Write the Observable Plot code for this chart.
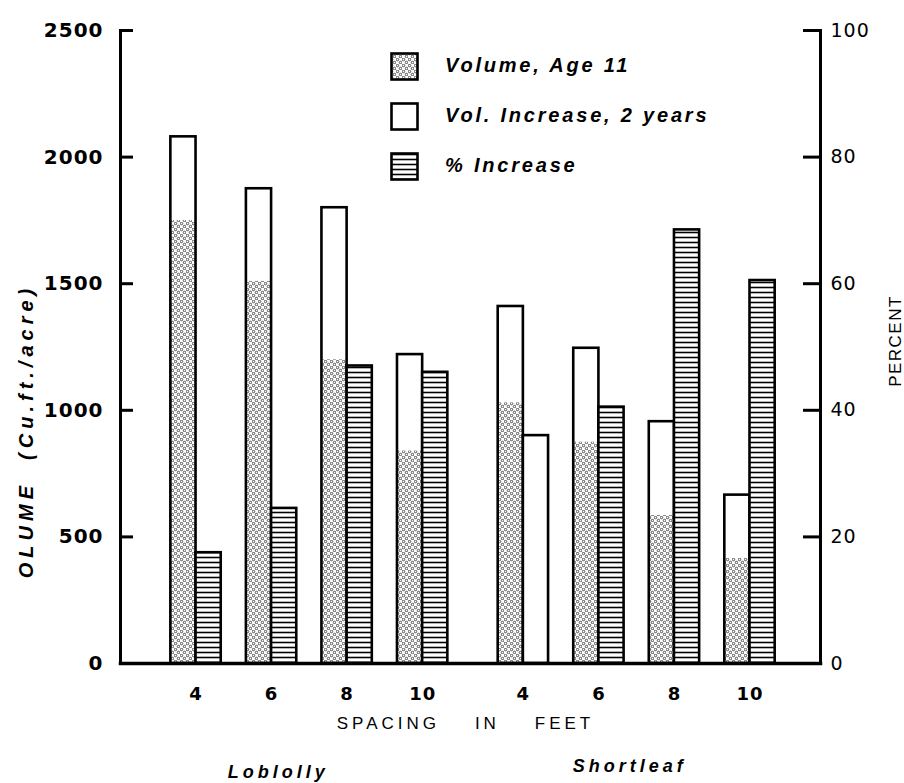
<!DOCTYPE html>
<html><head><meta charset="utf-8">
<script src="https://cdn.jsdelivr.net/npm/d3@7"></script>
<script src="https://cdn.jsdelivr.net/npm/@observablehq/plot@0.6"></script>
<style>
body{margin:0;background:#fff;}
#wrap{position:relative;width:904px;height:783px;overflow:hidden;}
#legend{position:absolute;left:390px;top:52px;font-family:"Liberation Sans",Arial,sans-serif;font-style:italic;font-weight:bold;font-size:20px;letter-spacing:2.8px;color:#000;}
#legend .row{position:absolute;left:0;height:28px;white-space:nowrap;}
#legend .row svg{position:absolute;left:0;top:0;}
#legend .row span{position:absolute;left:55px;top:2px;}
</style></head><body>
<svg width="0" height="0" style="position:absolute"><defs>
<pattern id="stipple" width="6" height="6" patternUnits="userSpaceOnUse">
<rect width="6" height="6" fill="#fff"/>
<circle cx="1.5" cy="1.5" r="1.25" fill="none" stroke="#000" stroke-width="0.65"/>
<circle cx="4.5" cy="4.5" r="1.25" fill="none" stroke="#000" stroke-width="0.65"/>
</pattern>
<pattern id="hatch" width="6" height="5" patternUnits="userSpaceOnUse">
<rect width="6" height="5" fill="#fff"/>
<line x1="0" y1="2.5" x2="6" y2="2.5" stroke="#000" stroke-width="1.6"/>
</pattern>
</defs></svg>
<div id="wrap">
<div id="legend"></div>
</div>
<script>
// ---- data ----
const species = ["Loblolly", "Shortleaf"];
const spacings = [4, 6, 8, 10];
const volumeAge11Loblolly = [1750, 1510, 1200, 840];
const volumeAge11Shortleaf = [1030, 875, 585, 415];
const volIncreaseLoblolly = [330, 365, 600, 380];
const volIncreaseShortleaf = [380, 370, 370, 250];
const pctIncreaseLoblolly = [17.5, 24.5, 47, 46];
const pctIncreaseShortleaf = [36, 40.5, 68.5, 60.5];
const volumeTicks = [0, 500, 1000, 1500, 2000, 2500];
const percentTicks = [0, 20, 40, 60, 80, 100];
const legendLabels = ["Volume, Age 11", "Vol. Increase, 2 years", "% Increase"];

// ---- build table ----
const pctToVol = 2500 / 100;
const vol11 = [volumeAge11Loblolly, volumeAge11Shortleaf];
const inc = [volIncreaseLoblolly, volIncreaseShortleaf];
const pct = [pctIncreaseLoblolly, pctIncreaseShortleaf];
const rows = [];
species.forEach((sp, g) => spacings.forEach((s, i) => {
  const slot = g * 13 + i * 3; // layout slot: vol bar, pct bar, gap
  rows.push({
    species: sp, spacing: s, slot,
    vol11: vol11[g][i], total: vol11[g][i] + inc[g][i],
    pct: pct[g][i], pctVol: pct[g][i] * pctToVol,
    plain: sp === "Shortleaf" && s === 4
  });
}));
const speciesRows = species.map((sp, g) => ({species: sp, slot: g * 13 + 5.5}));
const percentTickVols = percentTicks.map(p => p * pctToVol);

const FONT = "Liberation Sans, Arial, sans-serif";
const DIGITS = "DejaVu Sans, sans-serif";
const BW = 2.6;
const W = 904, ML = 120, MR = 84;
const FRAME_W = W - ML - MR;
const X_DOMAIN = [-2, 25.8];
const pxToX = (X_DOMAIN[1] - X_DOMAIN[0]) / FRAME_W;

const chart = Plot.plot({
  width: W, height: 783,
  marginLeft: ML, marginRight: MR, marginTop: 30, marginBottom: 120,
  style: {fontFamily: FONT, background: "#fff", color: "#000"},
  x: {domain: X_DOMAIN, axis: null},
  y: {domain: [0, 2500], axis: null},
  marks: [
    // stacked volume bars
    Plot.rectY(rows, {x1: d => d.slot, x2: d => d.slot + 1, y1: 0, y2: "vol11", fill: "url(#stipple)"}),
    Plot.rectY(rows, {x1: d => d.slot, x2: d => d.slot + 1, y1: "vol11", y2: "total", fill: "#fff"}),
    Plot.rectY(rows, {x1: d => d.slot, x2: d => d.slot + 1, y1: 0, y2: "total", fill: "none", stroke: "#000", strokeWidth: BW}),
    // percent bars
    Plot.rectY(rows, {x1: d => d.slot + 1, x2: d => d.slot + 2, y1: 0, y2: "pctVol",
      fill: d => d.plain ? "#fff" : "url(#hatch)", stroke: "#000", strokeWidth: BW}),
    // inward tick marks
    Plot.ruleY(volumeTicks, {y: d => d, x1: X_DOMAIN[0], x2: X_DOMAIN[0] + 13 * pxToX, stroke: "#000", strokeWidth: 3}),
    Plot.ruleY(percentTickVols, {y: d => d, x1: X_DOMAIN[1] - 17 * pxToX, x2: X_DOMAIN[1], stroke: "#000", strokeWidth: 3}),
    // axis lines
    Plot.frame({anchor: "left", strokeWidth: 3}),
    Plot.frame({anchor: "right", strokeWidth: 3}),
    Plot.frame({anchor: "bottom", strokeWidth: 3.5}),
    // tick labels
    Plot.axisY({anchor: "left", ticks: volumeTicks, tickSize: 0, tickPadding: 17, tickFormat: d => String(d),
      fontFamily: DIGITS, fontSize: 20, fontWeight: "bold", label: null}),
    Plot.axisY({anchor: "right", ticks: percentTickVols, tickSize: 0, tickPadding: 10,
      tickFormat: v => String(Math.round(v / pctToVol)), fontFamily: DIGITS, fontSize: 19, label: null}),
    // x tick labels
    Plot.text(rows, {x: d => d.slot + 1, y: 0, text: d => String(d.spacing), dy: 31, fontFamily: DIGITS, fontSize: 18, fontWeight: "bold"}),
    Plot.text(["SPACING    IN    FEET"], {frameAnchor: "bottom", dx: -5, dy: 65, fontSize: 17}),
    Plot.text(speciesRows.slice(0, 1), {x: "slot", y: 0, text: "species", dx: -31, dy: 109,
      fontSize: 18, fontStyle: "italic", fontWeight: "bold"}),
    Plot.text(speciesRows.slice(1), {x: "slot", y: 0, text: "species", dx: -7, dy: 103,
      fontSize: 18, fontStyle: "italic", fontWeight: "bold"}),
    // axis titles
    Plot.text(["OLUME  (Cu.ft./acre)"], {frameAnchor: "left", textAnchor: "middle", rotate: -90, dx: -94, dy: 84,
      fontSize: 20, fontStyle: "italic", fontWeight: "bold"}),
    Plot.text(["PERCENT"], {frameAnchor: "right", textAnchor: "middle", rotate: -90, dx: 75, dy: -6, fontSize: 17})
  ]
});
document.getElementById("wrap").prepend(chart);

// letter spacing (SVG style) for the lettered labels
const spacingFor = {
  "SPACING    IN    FEET": 4, "Loblolly": 4, "Shortleaf": 4,
  "OLUME  (Cu.ft./acre)": 5, "PERCENT": 1.5
};
d3.select(chart).selectAll("text").each(function () {
  const t = this.textContent;
  if (t in spacingFor) this.style.letterSpacing = spacingFor[t] + "px";
  else if (/^\d+$/.test(t)) this.style.letterSpacing = "1px";
});

// legend
const legend = d3.select("#legend");
const fills = ["url(#stipple)", "#fff", "url(#hatch)"];
legendLabels.forEach((lab, i) => {
  const row = legend.append("div").attr("class", "row").style("top", (i * 50) + "px");
  const s = row.append("svg").attr("width", 30).attr("height", 30);
  s.append("rect").attr("x", 1.5).attr("y", 1.5).attr("width", 26).attr("height", 26)
    .attr("fill", fills[i]).attr("stroke", "#000").attr("stroke-width", 2.6);
  row.append("span").text(lab);
});
</script>
</body></html>
